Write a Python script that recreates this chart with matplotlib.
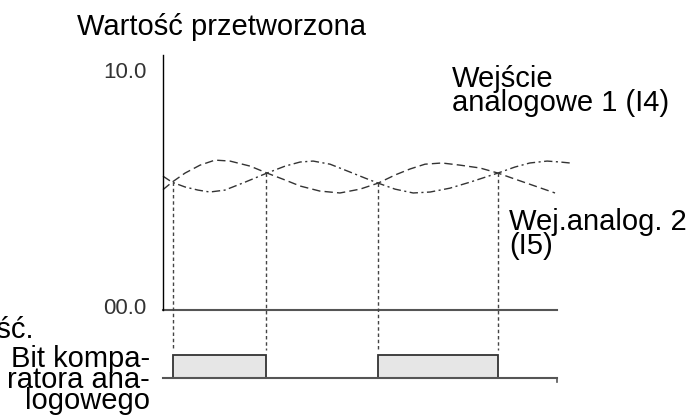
import matplotlib
matplotlib.use("Agg")
import matplotlib.pyplot as plt
import matplotlib.transforms as mtransforms
from matplotlib.patches import Rectangle

plt.rcParams["font.family"] = ["Liberation Sans", "DejaVu Sans"]

# analog input 1 (I4), time 0..100, value 0..10
t_i4 = [0, 2.3, 5.6, 9.4, 13.2, 17.0, 22.1, 26.4, 31.0, 34.8, 39.8, 44.9,
        50.0, 54.6, 58.9, 62.7, 66.5, 70.8, 75.4, 80.5, 85.0, 89.3, 94.4, 99.5]
v_i4 = [5.02, 5.33, 5.71, 6.04, 6.25, 6.21, 6.00, 5.71, 5.42, 5.17, 4.96, 4.88,
        5.04, 5.29, 5.63, 5.88, 6.08, 6.13, 6.04, 5.92, 5.71, 5.46, 5.17, 4.88]

# analog input 2 (I5)
t_i5 = [0, 2.3, 5.6, 8.9, 11.9, 15.7, 20.8, 26.4, 31.0, 34.8, 38.1, 42.4, 47.5,
        51.3, 54.6, 58.9, 63.5, 67.8, 72.8, 77.9, 85.0, 89.3, 93.1, 97.5, 100.8, 103.3]
v_i5 = [5.58, 5.33, 5.13, 5.00, 4.92, 5.00, 5.33, 5.71, 6.00, 6.17, 6.21, 6.08, 5.75,
        5.50, 5.29, 5.04, 4.88, 4.92, 5.08, 5.33, 5.71, 5.96, 6.13, 6.21, 6.17, 6.13]

# points where I4 and I5 cross, and the comparator bit after each crossing
cross_t = [2.5, 26.2, 54.6, 84.9]
cross_v = [5.33, 5.71, 5.29, 5.71]
bit_after = [1, 0, 1, 0]

y_ticks = [0, 10]
y_tick_labels = ["00.0", "10.0"]

bit_base = -2.83   # where the bit row sits under the analog plot
bit_high = 0.96
ink = "#333333"

fig = plt.figure(figsize=(6.94, 4.2), dpi=100)
ax = fig.add_axes([163 / 694, 30 / 420, 394 / 694, 335 / 420])
ax.set_xlim(0, 100)
ax.set_ylim(-3.33, 10.63)

for side in ["top", "right", "bottom"]:
    ax.spines[side].set_visible(False)
ax.spines["left"].set_bounds(0, 10.63)
ax.spines["left"].set_color("black")
ax.spines["left"].set_linewidth(1.0)
ax.set_xticks([])
ax.set_yticks(y_ticks)
ax.set_yticklabels(y_tick_labels, fontsize=16, color=ink)
ax.tick_params(axis="y", length=0, pad=12)
# lift the zero label a little off the baseline
lift = mtransforms.ScaledTranslation(0, 4 / 100, fig.dpi_scale_trans)
for lbl in ax.get_yticklabels():
    if lbl.get_text() == "00.0":
        lbl.set_transform(lbl.get_transform() + lift)

# analog zero line and bit baseline
ax.plot([0, 100], [0, 0], color="#555555", lw=1.5, clip_on=False)
ax.plot([0, 100], [bit_base, bit_base], color="#555555", lw=1.5, clip_on=False)
ax.plot([100, 100], [bit_base, bit_base - 0.17], color="#555555", lw=1.2, clip_on=False)

ax.plot(t_i4, v_i4, color=ink, lw=1.0, linestyle=(0, (6, 3)), clip_on=False)
ax.plot(t_i5, v_i5, color=ink, lw=1.0, linestyle=(0, (6, 2.5, 1.5, 2.5)), clip_on=False)

for t, v in zip(cross_t, cross_v):
    ax.plot([t, t], [v, bit_base + bit_high + 0.2], color="#444444", lw=1.0,
            linestyle=(0, (2.5, 2)))

for i, (t, b) in enumerate(zip(cross_t, bit_after)):
    if b and i + 1 < len(cross_t):
        ax.add_patch(Rectangle((t, bit_base), cross_t[i + 1] - t, bit_high,
                               facecolor="#e6e6e6", edgecolor=ink, lw=1.3))

fig.text(77 / 694, 1 - 27 / 420, "Wartość przetworzona", fontsize=21,
         va="center", ha="left")
fig.text(452 / 694, 1 - 91 / 420, "Wejście\nanalogowe 1 (I4)", fontsize=21,
         va="center", ha="left", linespacing=0.78)
fig.text(509 / 694, 1 - 234 / 420, "Wej.analog. 2\n(I5)", fontsize=21,
         va="center", ha="left", linespacing=0.85)
fig.text(34 / 694, 1 - 330 / 420, "Wyjść.", fontsize=21, va="center", ha="right")
fig.text(150 / 694, 1 - 380 / 420, "Bit kompa-\nratora ana-\nlogowego", fontsize=21,
         va="center", ha="right", linespacing=0.68)

fig.savefig("out.png", dpi=100)
